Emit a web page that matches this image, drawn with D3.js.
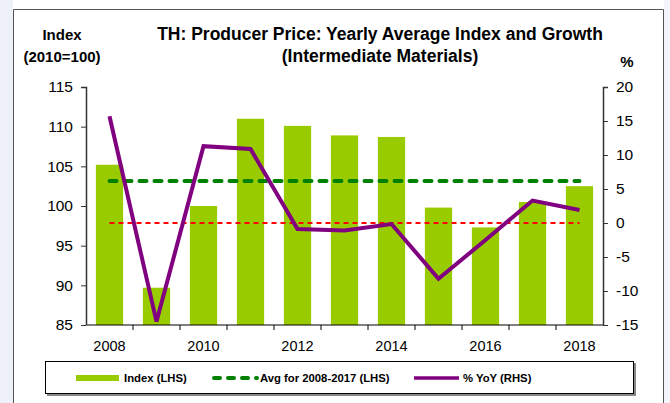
<!DOCTYPE html>
<html>
<head>
<meta charset="utf-8">
<script src="https://cdn.jsdelivr.net/npm/d3@7"></script>
<style>
  body { margin: 0; background: #ffffff; }
  svg { display: block; font-family: Arial, "Liberation Sans", sans-serif; }
</style>
</head>
<body>
<div id="chart"></div>
<script>
const years = [2008, 2009, 2010, 2011, 2012, 2013, 2014, 2015, 2016, 2017, 2018];
const indexValues = [105.2, 89.7, 100.0, 111.0, 110.1, 108.9, 108.7, 99.8, 97.3, 100.5, 102.5];
const yoyValues = [15.7, -14.5, 11.3, 10.9, -0.9, -1.1, -0.15, -8.2, -2.5, 3.3, 1.9];
const avgValue = 103.15;
const leftTicks = [85, 90, 95, 100, 105, 110, 115];
const rightTicks = [-15, -10, -5, 0, 5, 10, 15, 20];
const xTickLabels = [2008, 2010, 2012, 2014, 2016, 2018];

const W = 670, H = 403;
const margin = {top: 87, right: 67, bottom: 78, left: 86};
const width = W - margin.left - margin.right;
const height = H - margin.top - margin.bottom;

const svg = d3.select("#chart").append("svg")
    .attr("width", W)
    .attr("height", H);

// light backdrop outside the chart frame
svg.append("rect").attr("x", 0).attr("y", 0).attr("width", 13).attr("height", H).attr("fill", "#eef1f9");
svg.append("rect").attr("x", 664).attr("y", 0).attr("width", 6).attr("height", H).attr("fill", "#f3f5fa");
svg.append("path")
    .attr("d", `M13.5,${H} V9.5 H663.5 V${H}`)
    .attr("fill", "#ffffff")
    .attr("stroke", "#555")
    .attr("stroke-width", 1);

const g = svg.append("g").attr("transform", `translate(${margin.left},${margin.top})`);

const x = d3.scaleBand().domain(years).range([0, width]).paddingInner(0.42).paddingOuter(0.21);
const xCenter = d => x(d) + x.bandwidth() / 2;
const yL = d3.scaleLinear().domain([85, 115]).range([height, 0]);
const yR = d3.scaleLinear().domain([-15, 20]).range([height, 0]);

// bars
g.selectAll(".bar")
    .data(indexValues)
    .enter().append("rect")
    .attr("class", "bar")
    .attr("x", (d, i) => x(years[i]))
    .attr("y", d => yL(d))
    .attr("width", x.bandwidth())
    .attr("height", d => height - yL(d))
    .attr("fill", "#99cc00");

// zero line for RHS
g.append("line")
    .attr("x1", xCenter(years[0])).attr("x2", xCenter(years[years.length - 1]))
    .attr("y1", yR(0)).attr("y2", yR(0))
    .attr("stroke", "#ff0000")
    .attr("stroke-width", 2)
    .attr("stroke-dasharray", "5,4");

// average line
g.append("line")
    .attr("x1", xCenter(years[0])).attr("x2", xCenter(years[years.length - 1]))
    .attr("y1", yL(avgValue)).attr("y2", yL(avgValue))
    .attr("stroke", "#008000")
    .attr("stroke-width", 4)
    .attr("stroke-linecap", "round")
    .attr("stroke-dasharray", "7,8");

// yoy line
const line = d3.line()
    .x((d, i) => xCenter(years[i]))
    .y(d => yR(d));
g.append("path")
    .datum(yoyValues)
    .attr("d", line)
    .attr("fill", "none")
    .attr("stroke", "#800080")
    .attr("stroke-width", 4)
    .attr("stroke-linejoin", "miter");

// x axis: ticks between categories
const gap = x.step() - x.bandwidth();
const xAxisG = g.append("g").attr("transform", `translate(0,${height})`);
xAxisG.append("line").attr("x1", 0).attr("x2", width).attr("y1", 0).attr("y2", 0)
    .attr("stroke", "#000").attr("stroke-width", 1);
xAxisG.selectAll(".xtick")
    .data(years.slice(1))
    .enter().append("line")
    .attr("x1", d => x(d) - gap / 2)
    .attr("x2", d => x(d) - gap / 2)
    .attr("y1", 0).attr("y2", 5)
    .attr("stroke", "#000");
xAxisG.selectAll(".xlab")
    .data(xTickLabels)
    .enter().append("text")
    .attr("x", d => xCenter(d))
    .attr("y", 26)
    .attr("text-anchor", "middle")
    .attr("font-size", 14.5)
    .attr("fill", "#000")
    .text(d => d);

const fmt = d => String(d);
const leftAxis = d3.axisLeft(yL).tickValues(leftTicks).tickFormat(fmt).tickSize(5).tickPadding(8);
const lg = g.append("g").call(leftAxis);
const rightAxis = d3.axisRight(yR).tickValues(rightTicks).tickFormat(fmt).tickSize(5).tickPadding(8);
const rg = g.append("g").attr("transform", `translate(${width},0)`).call(rightAxis);
[lg, rg].forEach(a => {
    a.select(".domain").attr("stroke", "#333").attr("stroke-width", 1.5);
    a.selectAll(".tick line").attr("stroke", "#333");
    a.selectAll(".tick text").attr("font-size", 15.5).attr("fill", "#000")
        .attr("font-family", "Arial, 'Liberation Sans', sans-serif");
});
lg.select(".domain").attr("d", `M-5,0.5H0.5V${height}`);
rg.select(".domain").attr("d", `M5,0.5H0.5V${height}`);

// titles
const bold = "bold";
svg.append("text").attr("x", 380).attr("y", 40).attr("text-anchor", "middle")
    .attr("font-size", 17.5).attr("font-weight", bold).text("TH: Producer Price: Yearly Average Index and Growth");
svg.append("text").attr("x", 380).attr("y", 62).attr("text-anchor", "middle")
    .attr("font-size", 17.5).attr("font-weight", bold).text("(Intermediate Materials)");
svg.append("text").attr("x", 62).attr("y", 40).attr("text-anchor", "middle")
    .attr("font-size", 15).attr("font-weight", bold).text("Index");
svg.append("text").attr("x", 62).attr("y", 62).attr("text-anchor", "middle")
    .attr("font-size", 15).attr("font-weight", bold).text("(2010=100)");
svg.append("text").attr("x", 627).attr("y", 67).attr("text-anchor", "middle")
    .attr("font-size", 15).attr("font-weight", bold).text("%");

// legend
const legend = svg.append("g");
legend.append("rect").attr("x", 47).attr("y", 363).attr("width", 589).attr("height", 33).attr("fill", "#888");
legend.append("rect").attr("x", 45.5).attr("y", 361.5).attr("width", 588).attr("height", 32)
    .attr("fill", "#fff").attr("stroke", "#000").attr("stroke-width", 1);
const ly = 378;
legend.append("line").attr("x1", 76).attr("x2", 119).attr("y1", ly).attr("y2", ly)
    .attr("stroke", "#99cc00").attr("stroke-width", 6);
legend.append("line").attr("x1", 214).attr("x2", 257).attr("y1", ly).attr("y2", ly)
    .attr("stroke", "#008000").attr("stroke-width", 4).attr("stroke-linecap", "round")
    .attr("stroke-dasharray", "6,8");
legend.append("line").attr("x1", 414).attr("x2", 459).attr("y1", ly).attr("y2", ly)
    .attr("stroke", "#800080").attr("stroke-width", 3.5);
const legendText = [["Index (LHS)", 124], ["Avg for 2008-2017 (LHS)", 260], ["% YoY (RHS)", 463]];
legend.selectAll(".lt")
    .data(legendText)
    .enter().append("text")
    .attr("x", d => d[1]).attr("y", ly + 4)
    .attr("font-size", 11.3).attr("font-weight", bold)
    .text(d => d[0]);
</script>
</body>
</html>
